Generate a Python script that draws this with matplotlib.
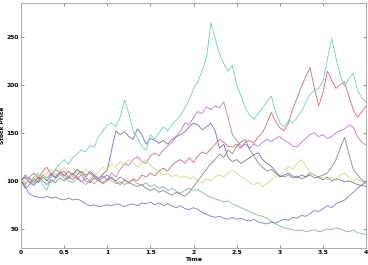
import numpy as np
import matplotlib
matplotlib.use("Agg")
import matplotlib.pyplot as plt

# time grid, 0 to 4 in steps of 0.05
t = np.linspace(0, 4, 81)

cyan = [100, 103, 98, 104, 108, 96, 90, 104, 112, 118,
        122, 117, 124, 128, 132, 130, 137, 135, 146, 152,
        158, 160, 156, 166, 184, 170, 152, 145, 136, 132,
        148, 143, 150, 156, 152, 158, 163, 168, 176, 184,
        196, 203, 215, 228, 264, 248, 232, 222, 214, 220,
        200, 188, 176, 168, 164, 170, 176, 182, 188, 172,
        160, 156, 163, 160, 166, 172, 182, 190, 194, 196,
        204, 226, 248, 228, 210, 198, 206, 212, 194, 186, 182]

red = [100, 96, 104, 108, 102, 110, 114, 106, 112, 108,
       110, 104, 108, 102, 106, 100, 98, 103, 100, 97,
       100, 104, 99, 96, 101, 98, 102, 100, 106, 104,
       108, 105, 110, 113, 110, 116, 120, 122, 118, 124,
       119, 126, 130, 128, 133, 138, 143, 140, 136, 135,
       138, 134, 140, 142, 139, 146, 150, 160, 171, 162,
       155, 152, 160, 175, 186, 198, 208, 218, 196, 178,
       192, 214, 205, 196, 200, 203, 188, 174, 166, 172, 178]

magenta = [100, 104, 98, 95, 101, 106, 103, 108, 104, 110,
           106, 102, 107, 104, 99, 103, 100, 106, 102, 105,
           101, 108, 104, 112, 118, 116, 122, 125, 120, 118,
           126, 129, 126, 132, 136, 140, 146, 152, 160, 158,
           166, 172, 170, 177, 174, 178, 176, 182, 166, 148,
           142, 136, 138, 134, 138, 136, 140, 143, 141, 144,
           146, 142, 140, 136, 135, 140, 144, 148, 150, 146,
           148, 144, 146, 150, 152, 154, 158, 156, 146, 140, 137]

navy = [100, 92, 96, 102, 98, 104, 100, 106, 103, 108,
        105, 110, 106, 112, 108, 104, 110, 106, 102, 107,
        111, 132, 152, 148, 151, 146, 143, 154, 148, 138,
        144, 142, 139, 142, 138, 143, 146, 148, 151, 156,
        160, 158, 153, 156, 160, 152, 134, 138, 124, 120,
        122, 118, 121, 124, 127, 129, 122, 118, 115, 110,
        104, 106, 108, 105, 103, 106, 104, 108, 106, 103,
        101, 104, 100, 102, 101, 99, 100, 98, 96, 95, 94]

olive = [100, 98, 103, 100, 106, 102, 108, 112, 106, 110,
         114, 108, 104, 110, 106, 112, 108, 104, 110, 114,
         112, 118, 114, 120, 116, 122, 119, 114, 118, 122,
         116, 112, 110, 106, 108, 104, 106, 103, 105, 102,
         104, 100, 98, 102, 100, 104, 106, 104, 108, 111,
         108, 104, 102, 98, 96, 98, 94, 97, 101, 104,
         106, 110, 115, 112, 118, 122, 116, 108, 106, 104,
         103, 101, 104, 100, 106, 108, 104, 100, 102, 99, 98]

grey = [100, 106, 102, 98, 104, 100, 96, 101, 98, 103,
        100, 104, 101, 106, 110, 106, 108, 104, 100, 103,
        106, 102, 100, 104, 101, 98, 96, 94, 96, 92,
        90, 92, 88, 90, 87, 85, 88, 86, 84, 88,
        94, 100, 106, 112, 118, 122, 128, 124, 132, 128,
        136, 140, 143, 132, 126, 118, 114, 110, 112, 108,
        105, 104, 106, 103, 105, 102, 104, 106, 103, 104,
        106, 108, 114, 122, 134, 145, 128, 112, 106, 101, 98]

green = [100, 104, 99, 96, 100, 104, 101, 98, 102, 106,
         103, 100, 98, 102, 99, 96, 100, 97, 101, 98,
         102, 100, 97, 99, 96, 98, 101, 97, 95, 98,
         94, 96, 92, 94, 90, 92, 89, 87, 90, 92,
         90, 91, 88, 85, 83, 81, 80, 78, 79, 76,
         74, 72, 70, 68, 66, 64, 63, 61, 58, 55,
         53, 51, 50, 49, 48, 49, 47, 48, 49, 47,
         48, 50, 49, 51, 50, 48, 47, 49, 46, 45, 44]

blue = [100, 94, 86, 84, 83, 82, 84, 82, 83, 81,
        80, 82, 80, 81, 79, 76, 74, 75, 73, 74,
        75, 74, 76, 75, 73, 75, 76, 74, 77, 76,
        78, 75, 77, 74, 76, 74, 72, 74, 71, 70,
        72, 70, 67, 65, 63, 62, 63, 61, 60, 62,
        60, 61, 59, 58, 60, 57, 56, 55, 57, 56,
        58, 60, 59, 62, 61, 64, 63, 66, 69, 68,
        71, 74, 72, 76, 78, 80, 84, 88, 92, 96, 98]

paths = [navy, green, red, cyan, magenta, olive, grey, blue]
colors = ['#6a64a8', '#78b48a', '#d45a6a', '#5ccdbd', '#b46cc0', '#d4d46a', '#7c7c7c', '#7070c4']

fig = plt.figure(figsize=(3.68, 2.65), dpi=100)
ax = fig.add_axes([0.057, 0.064, 0.938, 0.925])

for p, c in zip(paths, colors):
    ax.plot(t, p, color=c, linewidth=0.55)

ax.set_xlim(0, 4)
ax.set_ylim(30, 285)
ax.set_xticks(np.arange(0, 4.01, 0.5))
ax.set_xticklabels(['0', '0.5', '1', '1.5', '2', '2.5', '3', '3.5', '4'])
ax.set_yticks([50, 100, 150, 200, 250])
ax.tick_params(direction='in', top=True, right=True, length=2.5, width=0.5,
               labelsize=4.3, colors='#606060', pad=1.5)
for lab in ax.get_xticklabels() + ax.get_yticklabels():
    lab.set_fontweight('bold')
    lab.set_color('black')
for s in ax.spines.values():
    s.set_color('#a0a0a0')
    s.set_linewidth(0.6)

ax.set_xlabel('Time', fontsize=4.5, fontweight='bold', labelpad=1)
ax.set_ylabel('Stock Price', fontsize=4.2, fontweight='bold')
ax.yaxis.set_label_coords(-0.046, 0.5)

fig.savefig('out.png', dpi=100)
